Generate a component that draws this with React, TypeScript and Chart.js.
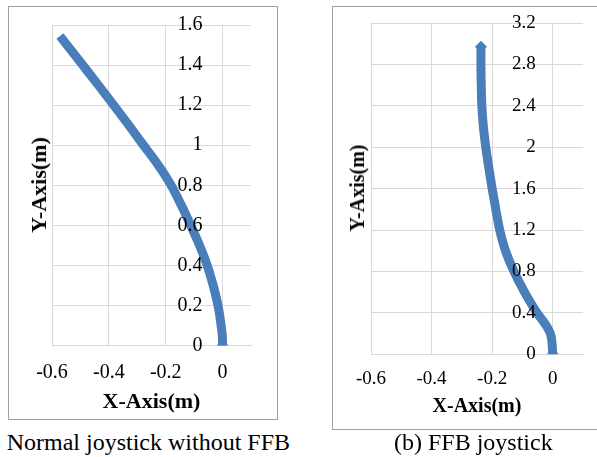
import React, { useEffect, useRef } from "react";
import { Chart, registerables } from "chart.js";

Chart.register(...registerables);

// ---------- data (metres) ----------
// (a) Normal joystick without FFB
const normalY = [0, 0.05, 0.1, 0.2, 0.3, 0.4, 0.5, 0.6, 0.7, 0.8, 0.9, 1.0, 1.1, 1.2, 1.3, 1.4, 1.545];
const normalX = [0, -0.001, -0.005, -0.016, -0.033, -0.054, -0.081, -0.112, -0.145, -0.181, -0.226, -0.278, -0.33, -0.383, -0.437, -0.492, -0.572];

// (b) FFB joystick
const ffbY = [0, 0.1, 0.15, 0.2, 0.25, 0.3, 0.4, 0.6, 0.8, 1.0, 1.2, 1.4, 1.6, 1.8, 2.0, 2.2, 2.4, 2.6, 2.8, 2.97];
const ffbX = [0, -0.002, -0.004, -0.008, -0.016, -0.027, -0.052, -0.093, -0.128, -0.156, -0.175, -0.188, -0.2, -0.211, -0.221, -0.229, -0.234, -0.236, -0.237, -0.237];

// ---------- tick labels ----------
const xTickValues = [-0.6, -0.4, -0.2, 0];
const normalYTicks = [0, 0.2, 0.4, 0.6, 0.8, 1, 1.2, 1.4, 1.6];
const ffbYTicks = [0, 0.4, 0.8, 1.2, 1.6, 2, 2.4, 2.8, 3.2];

const xTitle = "X-Axis(m)";
const yTitle = "Y-Axis(m)";
const captionA = "(a) Normal joystick without FFB";
const captionB = "(b) FFB joystick";

const FONT = '"Liberation Serif", Tinos, "DejaVu Serif", "Noto Serif", "Times New Roman", Times, serif';
const GRID = "#d9d9d9";
const BLUE = "#4a7ebb";
const TEXT = "#000000";
const FRAME = "#a0a0a0";

const fmt = (v: number) => String(Math.round(v * 10) / 10);

type Cfg = {
  xs: number[];
  ys: number[];
  yTicks: number[];
  yMax: number;
  tickFont: number;
  titleFont: number;
  xTickLen: number;
  titlePad: { top: number; bottom: number };
  yGap: number;
  pad: { left: number; right: number; top: number; bottom: number };
  endTip: boolean;
};

// draws the y tick labels just left of the vertical axis that crosses at x = 0
const yLabelPlugin = {
  id: "yCrossLabels",
  afterDatasetsDraw(chart: any, _args: any, opts: any) {
    const { ctx, scales } = chart;
    const xs = scales.x;
    const ys = scales.y;
    const ax = xs.getPixelForValue(0) - opts.gap;
    ctx.save();
    ctx.font = `normal ${opts.size}px ${FONT}`;
    ctx.fillStyle = TEXT;
    ctx.textAlign = "right";
    ctx.textBaseline = "middle";
    (opts.ticks as number[]).forEach((v) => {
      ctx.fillText(fmt(v), ax, ys.getPixelForValue(v));
    });
    ctx.restore();
  },
};

function MiniChart({ cfg, width, height }: { cfg: Cfg; width: number; height: number }) {
  const ref = useRef<HTMLCanvasElement | null>(null);
  useEffect(() => {
    if (!ref.current) return;
    const pts = cfg.xs.map((x, i) => ({ x, y: cfg.ys[i] }));
    const last = pts.length - 1;
    const chart = new Chart(ref.current, {
      type: "scatter",
      data: {
        datasets: [
          {
            data: pts,
            indexAxis: "y",
            showLine: true,
            borderColor: BLUE,
            backgroundColor: BLUE,
            borderWidth: 9,
            cubicInterpolationMode: "monotone",
            borderJoinStyle: "round",
            borderCapStyle: "butt",
            pointStyle: "rectRot",
            pointBorderWidth: 0,
            pointBackgroundColor: BLUE,
            pointRadius: (c: any) => (c.dataIndex === 0 || (c.dataIndex === last && cfg.endTip) ? 6 : 0),
          } as any,
        ],
      },
      plugins: [yLabelPlugin],
      options: {
        animation: false,
        responsive: false,
        maintainAspectRatio: false,
        layout: { padding: cfg.pad },
        plugins: {
          legend: { display: false },
          tooltip: { enabled: false },
          yCrossLabels: { gap: cfg.yGap, size: cfg.tickFont, ticks: cfg.yTicks },
        },
        scales: {
          x: {
            type: "linear",
            position: "bottom",
            min: -0.6,
            max: 0.1,
            afterBuildTicks: (s: any) => {
              s.ticks = xTickValues.map((v) => ({ value: v }));
            },
            ticks: {
              font: { family: FONT, size: cfg.tickFont },
              color: TEXT,
              padding: 2,
              maxRotation: 0,
              callback: (v: any) => fmt(Number(v)),
            },
            grid: { color: GRID, tickColor: "rgba(0,0,0,0)", tickLength: cfg.xTickLen, drawTicks: true },
            border: { color: GRID },
            title: {
              display: true,
              text: xTitle,
              color: TEXT,
              font: { family: FONT, size: cfg.titleFont, weight: "bold" },
              padding: cfg.titlePad,
            },
          },
          y: {
            type: "linear",
            position: { x: 0 } as any,
            min: 0,
            max: cfg.yMax,
            afterBuildTicks: (s: any) => {
              s.ticks = cfg.yTicks.map((v) => ({ value: v }));
            },
            ticks: { display: false },
            grid: { color: GRID, drawTicks: false },
            border: { color: GRID },
          },
        },
      } as any,
    });
    return () => chart.destroy();
  }, []);
  return <canvas ref={ref} width={width} height={height} style={{ display: "block", width, height }} />;
}

const normalCfg: Cfg = {
  xs: normalX,
  ys: normalY,
  yTicks: normalYTicks,
  yMax: 1.6,
  tickFont: 20,
  titleFont: 22,
  xTickLen: 13,
  titlePad: { top: 3, bottom: 3 },
  yGap: 20,
  pad: { left: 43, right: 26, top: 18, bottom: 0 },
  endTip: false,
};

const ffbCfg: Cfg = {
  xs: ffbX,
  ys: ffbY,
  yTicks: ffbYTicks,
  yMax: 3.2,
  tickFont: 19,
  titleFont: 20,
  xTickLen: 11,
  titlePad: { top: 3, bottom: 4 },
  yGap: 17,
  pad: { left: 38, right: 14, top: 16, bottom: 6 },
  endTip: true,
};

export default function App() {
  const yTitleStyle = (size: number): React.CSSProperties => ({
    position: "absolute",
    transform: "translate(-50%, -50%) rotate(-90deg)",
    whiteSpace: "nowrap",
    fontFamily: FONT,
    fontWeight: "bold",
    fontSize: size,
    lineHeight: "1",
    color: TEXT,
  });
  return (
    <div
      style={{
        position: "absolute",
        left: 0,
        top: 0,
        width: 597,
        height: 457,
        overflow: "hidden",
        background: "#ffffff",
        fontFamily: FONT,
      }}
    >
      <div
        style={{
          position: "absolute",
          left: 8,
          top: 6,
          width: 268,
          height: 412,
          border: `1px solid ${FRAME}`,
        }}
      >
        <MiniChart cfg={normalCfg} width={268} height={412} />
        <div style={{ ...yTitleStyle(22), left: 30, top: 178 }}>{yTitle}</div>
      </div>
      <div
        style={{
          position: "absolute",
          left: 332,
          top: 6,
          width: 270,
          height: 422,
          border: `1px solid ${FRAME}`,
        }}
      >
        <MiniChart cfg={ffbCfg} width={264} height={422} />
        <div style={{ ...yTitleStyle(20), left: 24, top: 181 }}>{yTitle}</div>
      </div>
      <div
        style={{
          position: "absolute",
          right: 597 - 290,
          top: 428,
          whiteSpace: "nowrap",
          fontSize: 24,
          lineHeight: "28px",
          color: TEXT,
        }}
      >
        {captionA}
      </div>
      <div
        style={{
          position: "absolute",
          left: 394,
          top: 428,
          whiteSpace: "nowrap",
          fontSize: 24,
          lineHeight: "28px",
          color: TEXT,
        }}
      >
        {captionB}
      </div>
    </div>
  );
}
